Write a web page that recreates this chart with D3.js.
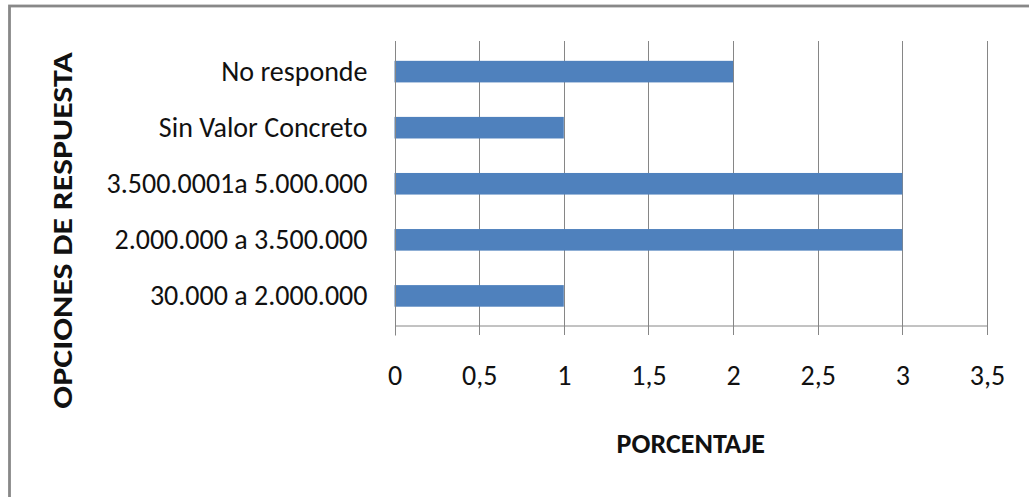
<!DOCTYPE html>
<html>
<head>
<meta charset="utf-8">
<script src="https://cdn.jsdelivr.net/npm/d3@7"></script>
<style>
  html, body { margin: 0; padding: 0; background: #fff; }
  svg { display: block; }
  text { font-family: Carlito, Lato, "Liberation Sans", sans-serif; fill: #111; }
</style>
</head>
<body>
<svg id="chart" width="1029" height="497"></svg>
<script>
// Response options (bottom to top as listed in the survey table)
const categories = [
  "30.000 a 2.000.000",
  "2.000.000 a 3.500.000",
  "3.500.0001a 5.000.000",
  "Sin Valor Concreto",
  "No responde"
];
const percentages = [1, 3, 3, 1, 2];
const xTicks = [0, 0.5, 1, 1.5, 2, 2.5, 3, 3.5];
const xTitle = "PORCENTAJE";
const yTitle = "OPCIONES DE RESPUESTA";

const svg = d3.select("#chart");

const plotLeft = 394.5, plotRight = 987, plotTop = 41, plotBottom = 325;

// Outer chart frame (clipped on the right and bottom by the canvas)
svg.append("rect")
  .attr("x", 9.5).attr("y", 6)
  .attr("width", 1100).attr("height", 600)
  .attr("fill", "none")
  .attr("stroke", "#888")
  .attr("stroke-width", 2.8);

const x = d3.scaleLinear().domain([0, 3.5]).range([plotLeft, plotRight]);
const y = d3.scaleBand()
  .domain(categories.slice().reverse())
  .range([plotTop, plotBottom])
  .paddingInner(0.615)
  .paddingOuter(0.34)
  .align(0.52);

// Vertical gridlines, running a little below the axis as tick marks
svg.append("g")
  .selectAll("line")
  .data(xTicks)
  .join("line")
  .attr("x1", d => Math.round(x(d)) + 0.5)
  .attr("x2", d => Math.round(x(d)) + 0.5)
  .attr("y1", plotTop)
  .attr("y2", plotBottom + 10)
  .attr("stroke", "#868686")
  .attr("stroke-width", 1);

// Bars
svg.append("g")
  .selectAll("rect")
  .data(categories.map((c, i) => ({ c, v: percentages[i] })))
  .join("rect")
  .attr("x", x(0))
  .attr("y", d => y(d.c))
  .attr("width", d => x(d.v) - x(0))
  .attr("height", y.bandwidth())
  .attr("fill", "#4F81BD");

// Horizontal value axis
const xAxis = d3.axisBottom(x)
  .tickValues(xTicks)
  .tickFormat(d => String(d).replace(".", ","))
  .tickSizeInner(10)
  .tickSizeOuter(0)
  .tickPadding(30);

const gx = svg.append("g")
  .attr("transform", `translate(0,${plotBottom + 0.5})`)
  .call(xAxis);
gx.select(".domain").attr("stroke", "#868686");
gx.selectAll(".tick line").attr("stroke", "none");
gx.selectAll("text")
  .attr("font-size", 28)
  .attr("font-family", null)
  .attr("fill", "#111");

// Category axis
const yAxis = d3.axisLeft(y).tickSize(0).tickPadding(28);
const gy = svg.append("g")
  .attr("transform", `translate(${Math.round(plotLeft) + 0.5},0)`)
  .call(yAxis);
gy.select(".domain").remove();
gy.selectAll("text")
  .attr("font-size", 28)
  .attr("font-family", null)
  .attr("fill", "#111");

// Vertical axis line
svg.append("line")
  .attr("x1", Math.round(plotLeft) + 0.5).attr("x2", Math.round(plotLeft) + 0.5)
  .attr("y1", plotTop).attr("y2", plotBottom + 10.5)
  .attr("stroke", "#868686");

// Axis titles
svg.append("text")
  .attr("x", (plotLeft + plotRight) / 2)
  .attr("y", 453)
  .attr("text-anchor", "middle")
  .attr("font-size", 28)
  .attr("font-weight", "bold")
  .text(xTitle);

// Vertical title, stretched along its length
svg.append("text")
  .attr("transform", "translate(72,230.5) rotate(-90) scale(1.21,1)")
  .attr("text-anchor", "middle")
  .attr("font-size", 28)
  .attr("font-weight", "bold")
  .text(yTitle);
</script>
</body>
</html>
